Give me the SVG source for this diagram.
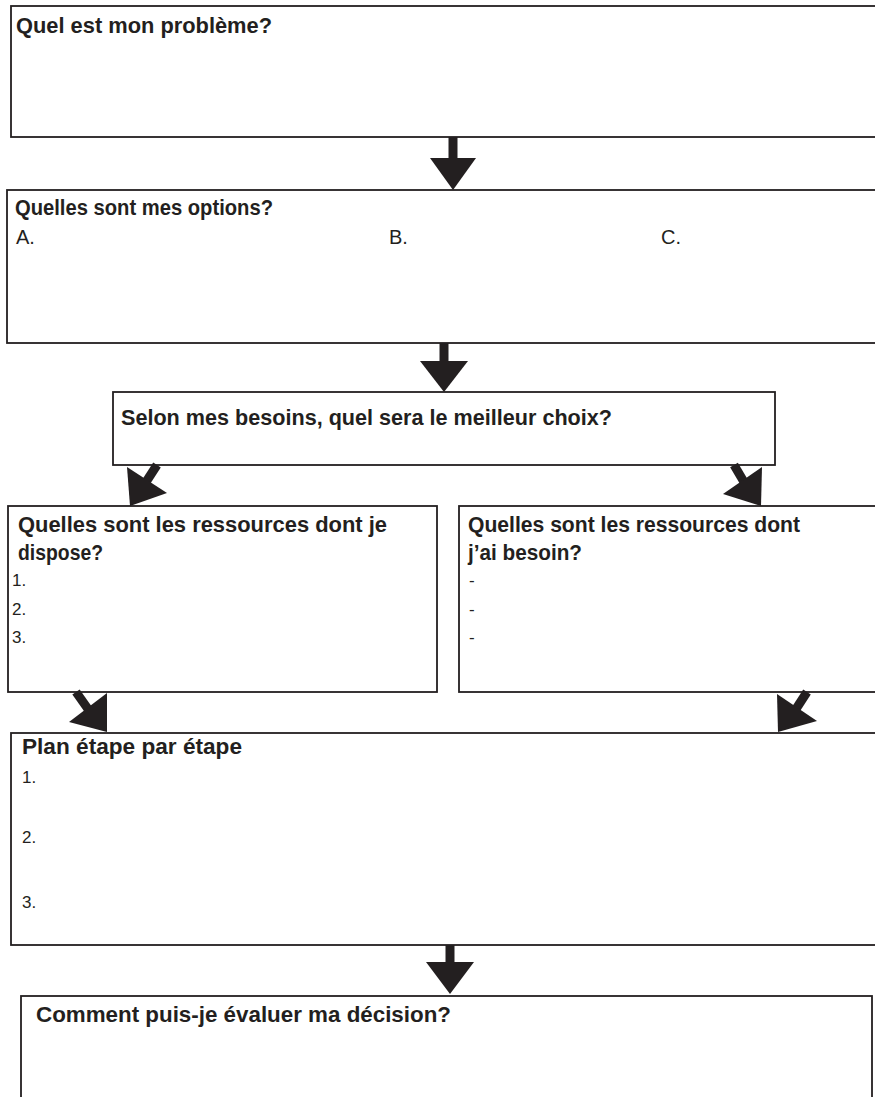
<svg xmlns="http://www.w3.org/2000/svg" width="875" height="1097" viewBox="0 0 875 1097">
<defs>
<style>
.box{fill:#ffffff;stroke:#231f20;stroke-width:1.8}
.t{font-family:"Liberation Sans",Arial,sans-serif;font-weight:bold;font-size:22px;fill:#231f20}
.n{font-family:"Liberation Sans",Arial,sans-serif;font-size:17px;fill:#231f20}
.abc{font-family:"Liberation Sans",Arial,sans-serif;font-size:20px;fill:#231f20}
.shaft{stroke:#231f20;stroke-width:9;fill:none}
.head{fill:#231f20;stroke:none}
</style>
</defs>
<rect width="875" height="1097" fill="#ffffff"/>
<g id="n1">
<rect class="box" x="11" y="6" width="880" height="131"/>
<text class="t" x="16" y="33" textLength="256" lengthAdjust="spacingAndGlyphs">Quel est mon problème?</text>
</g>
<g id="n2">
<rect class="box" x="7" y="190" width="884" height="153"/>
<text class="t" x="15" y="215" textLength="258" lengthAdjust="spacingAndGlyphs">Quelles sont mes options?</text>
<text class="abc" x="16" y="244">A.</text>
<text class="abc" x="389" y="244">B.</text>
<text class="abc" x="661" y="244">C.</text>
</g>
<g id="n3">
<rect class="box" x="113" y="392" width="662" height="73"/>
<text class="t" x="121" y="425" textLength="491" lengthAdjust="spacingAndGlyphs">Selon mes besoins, quel sera le meilleur choix?</text>
</g>
<g id="n4">
<rect class="box" x="8" y="506" width="429" height="186"/>
<text class="t" x="18" y="532" textLength="369" lengthAdjust="spacingAndGlyphs">Quelles sont les ressources dont je</text>
<text class="t" x="18" y="560" textLength="85" lengthAdjust="spacingAndGlyphs">dispose?</text>
<text class="n" x="12" y="586">1.</text>
<text class="n" x="12" y="615">2.</text>
<text class="n" x="12" y="643">3.</text>
</g>
<g id="n5">
<rect class="box" x="459" y="506" width="432" height="186"/>
<text class="t" x="468" y="532" textLength="332" lengthAdjust="spacingAndGlyphs">Quelles sont les ressources dont</text>
<text class="t" x="468" y="560" textLength="114" lengthAdjust="spacingAndGlyphs">j’ai besoin?</text>
<text class="n" x="469" y="586">-</text>
<text class="n" x="469" y="615">-</text>
<text class="n" x="469" y="643">-</text>
</g>
<g id="n6">
<rect class="box" x="11" y="733" width="880" height="212"/>
<text class="t" x="22" y="754" textLength="220" lengthAdjust="spacingAndGlyphs">Plan étape par étape</text>
<text class="n" x="22" y="783">1.</text>
<text class="n" x="22" y="843">2.</text>
<text class="n" x="22" y="908">3.</text>
</g>
<g id="n7">
<rect class="box" x="21" y="996" width="851" height="120"/>
<text class="t" x="36" y="1022" textLength="415" lengthAdjust="spacingAndGlyphs">Comment puis-je évaluer ma décision?</text>
</g>
<g id="connectors">
<line class="shaft" x1="453" y1="137" x2="453" y2="160"/>
<polygon class="head" points="430,158 476,158 453,190"/>
<line class="shaft" x1="444" y1="343" x2="444" y2="363"/>
<polygon class="head" points="420,361 468,361 444,392"/>
<line class="shaft" x1="157" y1="465" x2="146" y2="482"/>
<polygon class="head" points="127,467 167,493 130,506"/>
<line class="shaft" x1="734" y1="465" x2="744" y2="482"/>
<polygon class="head" points="723,494 762,467 761,506"/>
<line class="shaft" x1="76" y1="692" x2="88" y2="709"/>
<polygon class="head" points="69,722 107,693 107,732"/>
<line class="shaft" x1="807" y1="692" x2="796" y2="709"/>
<polygon class="head" points="777,694 817,721 778,732"/>
<line class="shaft" x1="450" y1="945" x2="450" y2="964"/>
<polygon class="head" points="426,962 474,962 450,994"/>
</g>
</svg>
